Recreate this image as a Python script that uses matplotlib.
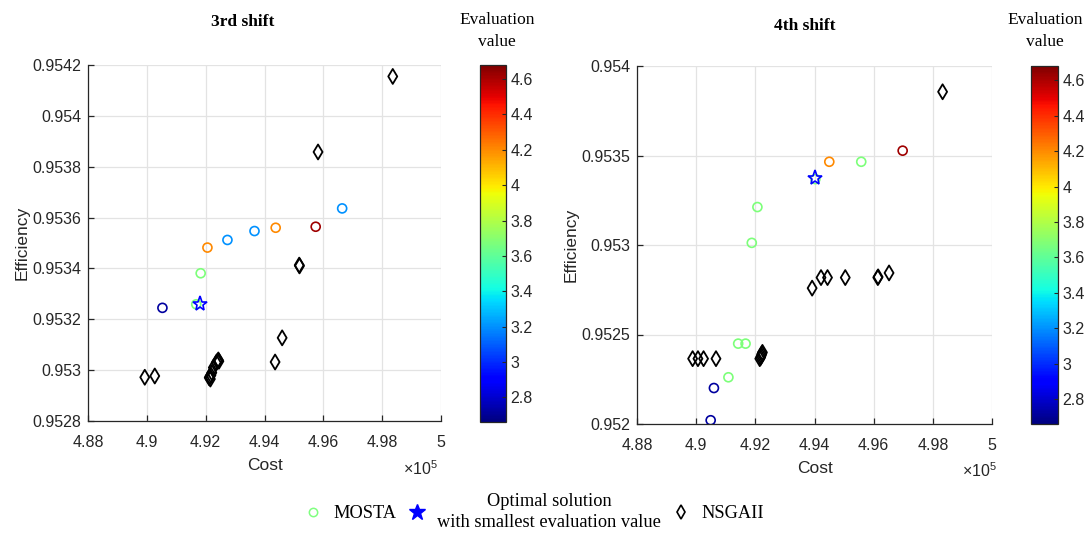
import numpy as np
import matplotlib.pyplot as plt
from matplotlib.colors import Normalize
from matplotlib.cm import ScalarMappable
from matplotlib.lines import Line2D

plt.rcParams['font.family'] = ['Liberation Sans', 'DejaVu Sans']
plt.rcParams['mathtext.default'] = 'regular'

# cost in units of 1e5, efficiency, evaluation value
# 3rd shift
mosta3_cost = [4.9053, 4.9168, 4.9183, 4.9206, 4.9274, 4.9366, 4.9438, 4.9574, 4.9664]
mosta3_eff = [0.953245, 0.953259, 0.953381, 0.953482, 0.953512, 0.953547, 0.953560, 0.953564, 0.953636]
mosta3_eval = [2.72, 3.67, 3.67, 4.20, 3.20, 3.20, 4.20, 4.62, 3.20]
best3_cost = [4.9182]
best3_eff = [0.953262]
nsga3_cost = [4.9836, 4.9582, 4.9518, 4.9519, 4.9460, 4.9436, 4.8993, 4.9027,
              4.9212, 4.9214, 4.9216, 4.9218, 4.9221, 4.9226, 4.9236, 4.9240, 4.9243, 4.9245]
nsga3_eff = [0.954155, 0.953858, 0.953413, 0.953410, 0.953127, 0.953032, 0.952972, 0.952977,
             0.952970, 0.952975, 0.952965, 0.952980, 0.952990, 0.953010, 0.953030, 0.953035, 0.953040, 0.953035]

# 4th shift
mosta4_cost = [4.9049, 4.9060, 4.9109, 4.9142, 4.9167, 4.9188, 4.9207, 4.9403, 4.9450, 4.9558, 4.9698]
mosta4_eff = [0.952021, 0.952201, 0.952261, 0.952449, 0.952449, 0.953012, 0.953212, 0.953368, 0.953465, 0.953465, 0.953527]
mosta4_eval = [2.72, 2.72, 3.67, 3.67, 3.67, 3.67, 3.67, 3.67, 4.20, 3.67, 4.62]
best4_cost = [4.9403]
best4_eff = [0.953372]
nsga4_cost = [4.9833, 4.9392, 4.9422, 4.9444, 4.9504, 4.9614, 4.9615, 4.9652,
              4.8988, 4.9006, 4.9025, 4.9067, 4.9215, 4.9218, 4.9220, 4.9222, 4.9224]
nsga4_eff = [0.953856, 0.952759, 0.952818, 0.952818, 0.952818, 0.952818, 0.952822, 0.952844,
             0.952365, 0.952365, 0.952365, 0.952365, 0.952365, 0.952372, 0.952382, 0.952392, 0.952400]

eval_min, eval_max = 2.66, 4.68
cbar_ticks = [2.8, 3.0, 3.2, 3.4, 3.6, 3.8, 4.0, 4.2, 4.4, 4.6]

cmap = plt.get_cmap('jet')
norm = Normalize(vmin=eval_min, vmax=eval_max)
txt = '#262626'

fig = plt.figure(figsize=(10.85, 5.35), dpi=100)


def draw_panel(rect, cbar_rect, mc, me, mv, bc, be, nc, ne, ylim, yticks, title, title_xy, cb_label_xy, x10_xy):
    ax = fig.add_axes(rect)
    ax.scatter(nc, ne, marker='d', s=58, facecolors='none', edgecolors='k', linewidths=1.3, zorder=3)
    ax.scatter(mc, me, marker='o', s=42, facecolors='none', edgecolors=cmap(norm(np.array(mv))),
               linewidths=1.2, zorder=4)
    ax.plot(bc, be, linestyle='none', marker='*', ms=11, mfc='none', mec='blue', mew=1.2, zorder=5)
    ax.set_xlim(4.88, 5.0)
    ax.set_ylim(*ylim)
    ax.set_xticks([4.88, 4.90, 4.92, 4.94, 4.96, 4.98, 5.0])
    ax.set_yticks(yticks)
    ax.xaxis.set_major_formatter(plt.FuncFormatter(lambda v, p: '%g' % round(v, 4)))
    ax.yaxis.set_major_formatter(plt.FuncFormatter(lambda v, p: '%g' % round(v, 6)))
    ax.grid(True, color='#e3e3e3', linewidth=0.9)
    ax.set_axisbelow(True)
    for s in ['top', 'right']:
        ax.spines[s].set_visible(False)
    for s in ['left', 'bottom']:
        ax.spines[s].set_color(txt)
        ax.spines[s].set_linewidth(0.9)
    ax.tick_params(direction='in', length=4, width=0.9, colors=txt, labelsize=11.5, pad=5)
    ax.tick_params(axis='x', pad=10)
    ax.set_xlabel('Cost', fontsize=12.5, color=txt, labelpad=6)
    ax.set_ylabel('Efficiency', fontsize=12.5, color=txt, labelpad=2)
    fig.text(x10_xy[0], x10_xy[1], r'$\times10^{5}$', fontsize=11.5, color=txt, ha='left', va='center')
    fig.text(title_xy[0], title_xy[1], title, family='Liberation Serif', fontweight='bold',
             fontsize=12.5, ha='center', va='center')

    cax = fig.add_axes(cbar_rect)
    cb = fig.colorbar(ScalarMappable(norm=norm, cmap=cmap), cax=cax, ticks=cbar_ticks)
    cb.ax.yaxis.set_major_formatter(plt.FuncFormatter(lambda v, p: '%g' % round(v, 2)))
    cb.outline.set_edgecolor(txt)
    cb.outline.set_linewidth(0.9)
    cb.ax.tick_params(direction='in', length=3, width=0.8, colors=txt, labelsize=11.5, pad=3)
    fig.text(cb_label_xy[0], cb_label_xy[1], 'Evaluation\nvalue', family='Liberation Serif',
             fontsize=12.5, ha='center', va='center', linespacing=1.45)
    return ax


W, H = 1085.0, 535.0
draw_panel([88 / W, 1 - 421 / H, 353 / W, 356 / H], [480 / W, 1 - 422 / H, 26 / W, 357 / H],
           mosta3_cost, mosta3_eff, mosta3_eval, best3_cost, best3_eff, nsga3_cost, nsga3_eff,
           (0.9528, 0.9542), [0.9528, 0.9530, 0.9532, 0.9534, 0.9536, 0.9538, 0.9540, 0.9542],
           '3rd shift', (243 / W, 1 - 22 / H), (497 / W, 1 - 31 / H), (403 / W, 1 - 469 / H))
draw_panel([637 / W, 1 - 424 / H, 355 / W, 358 / H], [1031 / W, 1 - 424 / H, 27 / W, 358 / H],
           mosta4_cost, mosta4_eff, mosta4_eval, best4_cost, best4_eff, nsga4_cost, nsga4_eff,
           (0.9520, 0.9540), [0.9520, 0.9525, 0.9530, 0.9535, 0.9540],
           '4th shift', (805 / W, 1 - 26 / H), (1045 / W, 1 - 31 / H), (962 / W, 1 - 471 / H))

handles = [
    Line2D([], [], linestyle='none', marker='o', ms=6, mfc='none', mec='#80ff80', mew=1.1),
    Line2D([], [], linestyle='none', marker='*', ms=12, mfc='blue', mec='blue'),
    Line2D([], [], linestyle='none', marker='d', ms=7, mfc='none', mec='k', mew=1.2),
]
labels = ['MOSTA', 'Optimal solution\nwith smallest evaluation value', 'NSGAII']
leg = fig.legend(handles, labels, loc='center', bbox_to_anchor=(534 / W, 1 - 512 / H), ncol=3,
                 frameon=False, handlelength=1.0, handletextpad=0.6, columnspacing=0.6,
                 prop={'family': 'Liberation Serif', 'size': 13.2})
for t in leg.get_texts():
    t.set_multialignment('center')
    t.set_linespacing(1.35)

fig.savefig('out.png', dpi=100)
